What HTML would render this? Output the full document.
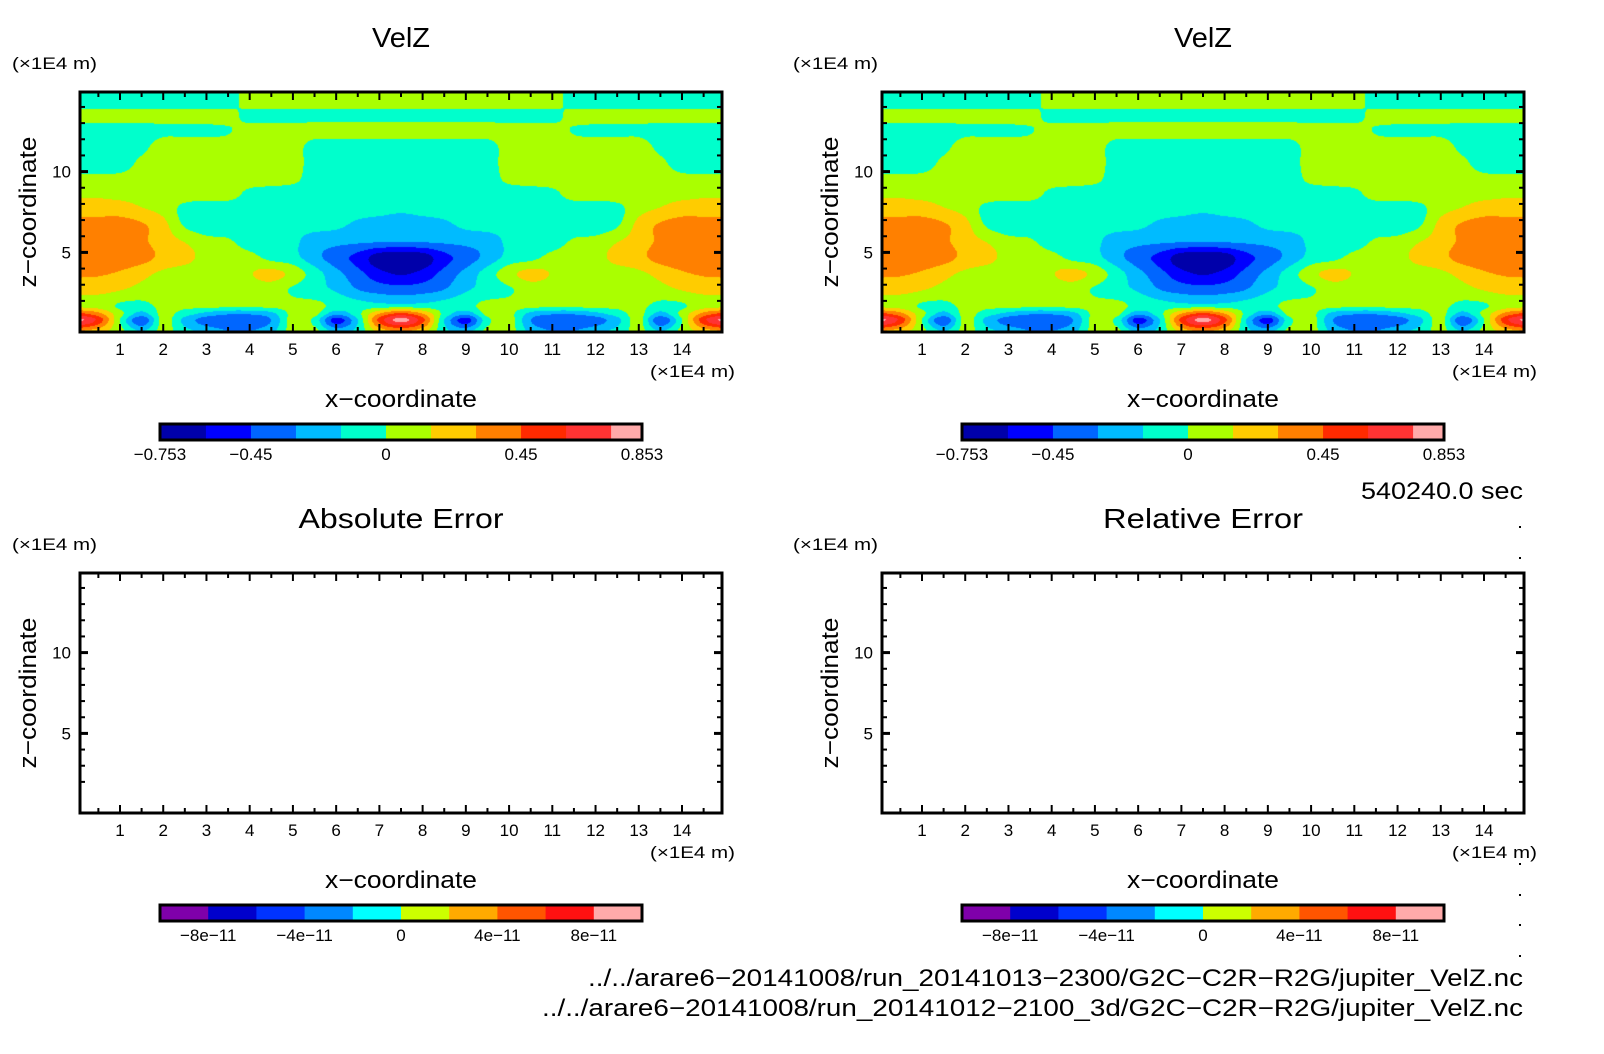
<!DOCTYPE html>
<html><head><meta charset="utf-8"><style>
html,body{margin:0;padding:0;background:#fff;}
#wrap{position:relative;width:1604px;height:1054px;overflow:hidden;}
canvas{position:absolute;}
svg{position:absolute;left:0;top:0;}
text{font-family:"Liberation Sans",sans-serif;fill:#000;}
</style></head><body>
<div id="wrap">
<canvas id="c1" width="642" height="240" style="left:80px;top:92px"></canvas>
<canvas id="c2" width="642" height="240" style="left:882px;top:92px"></canvas>
<svg id="svg" width="1604" height="1054"></svg>
</div>
<script>
// ---- data ----
const xNodes = [0,0.5,1,1.5,2,2.5,3,3.5,4,4.5,5,5.5,6,6.5,7,7.5,8,8.5,9,9.5,10,10.5,11,11.5,12,12.5,13,13.5,14,14.5,15];
const zNodes = [0.1,0.8,1.2,1.7,2.7,3.7,4.7,5.7,6.7,7.7,8.7,9.5,10.5,11.5,12.6,13.5,14.2,15.0];
const velzRows = [
[.3,.2,.05,-.15,.05,-.1,-.2,-.3,-.3,-.2,.07,.05,-.2,-.1,.2,.3,.2,-.1,-.2,.05,.07,-.2,-.3,-.3,-.2,-.1,.05,-.15,.05,.2,.3],
[.8,.55,0,-.42,.05,-.2,-.38,-.4,-.4,-.3,.07,-.05,-.52,-.15,.5,.8,.5,-.15,-.52,-.05,.07,-.3,-.4,-.4,-.38,-.2,.05,-.42,0,.55,.8],
[.5,.35,.05,-.2,.05,-.08,-.2,-.28,-.28,-.2,.05,.05,-.25,-.05,.3,.5,.3,-.05,-.25,.05,.05,-.2,-.28,-.28,-.2,-.08,.05,-.2,.05,.35,.5],
[.1,.08,-.02,-.05,.05,.05,.05,.05,.05,.05,.05,.05,-.05,-.08,-.1,-.1,-.1,-.08,-.05,.05,.05,.05,.05,.05,.05,.05,.05,-.05,-.02,.08,.1],
[.2,.2,.16,.1,.07,.07,.07,.07,.07,.07,-.02,-.1,-.17,-.3,-.36,-.38,-.36,-.3,-.17,-.1,-.02,.07,.07,.07,.07,.07,.07,.1,.16,.2,.2],
[.33,.32,.28,.2,.12,.08,.07,.08,.14,.2,.1,-.08,-.25,-.4,-.55,-.62,-.55,-.4,-.25,-.08,.1,.2,.14,.08,.07,.08,.12,.2,.28,.32,.33],
[.4,.4,.4,.36,.26,.2,.1,.08,.05,-.05,-.1,-.25,-.38,-.5,-.68,-.72,-.68,-.5,-.38,-.25,-.1,-.05,.05,.08,.1,.2,.26,.36,.4,.4,.4],
[.37,.37,.37,.33,.22,.14,.05,.02,-.08,-.1,-.12,-.22,-.25,-.27,-.28,-.29,-.28,-.27,-.25,-.22,-.12,-.1,-.08,.02,.05,.14,.22,.33,.37,.37,.37],
[.37,.37,.37,.32,.2,-.02,-.1,-.1,-.1,-.1,-.1,-.1,-.12,-.18,-.22,-.25,-.22,-.18,-.12,-.1,-.1,-.1,-.1,-.1,-.1,-.02,.2,.32,.37,.37,.37],
[.22,.22,.22,.16,.1,-.05,-.1,-.1,-.1,-.1,-.1,-.1,-.1,-.1,-.1,-.12,-.1,-.1,-.1,-.1,-.1,-.1,-.1,-.1,-.1,-.05,.1,.16,.22,.22,.22],
[.12,.12,.1,.1,.1,.1,.1,.1,-.05,-.1,-.1,-.1,-.1,-.1,-.1,-.1,-.1,-.1,-.1,-.1,-.1,-.1,-.05,.1,.1,.1,.1,.1,.1,.12,.12],
[.05,.05,.07,.1,.1,.1,.1,.1,.1,.1,.05,-.1,-.1,-.1,-.1,-.1,-.1,-.1,-.1,-.1,.05,.1,.1,.1,.1,.1,.1,.1,.07,.05,.05],
[-.1,-.1,-.1,.05,.1,.1,.1,.1,.1,.1,.1,-.1,-.1,-.1,-.1,-.1,-.1,-.1,-.1,-.1,.1,.1,.1,.1,.1,.1,.1,.05,-.1,-.1,-.1],
[-.1,-.1,-.1,-.05,.1,.1,.1,.1,.1,.1,.1,-.1,-.1,-.1,-.1,-.1,-.1,-.1,-.1,-.1,.1,.1,.1,.1,.1,.1,.1,-.05,-.1,-.1,-.1],
[-.1,-.1,-.1,-.1,-.05,-.05,-.05,-.02,.1,.1,.1,.1,.1,.1,.1,.1,.1,.1,.1,.1,.1,.1,.1,-.02,-.05,-.05,-.05,-.1,-.1,-.1,-.1],
[.1,.1,.1,.1,.1,.1,.1,.1,-.1,-.1,-.1,-.1,-.1,-.1,-.1,-.1,-.1,-.1,-.1,-.1,-.1,-.1,-.1,.1,.1,.1,.1,.1,.1,.1,.1],
[-.1,-.1,-.1,-.1,-.1,-.1,-.1,-.1,.1,.1,.1,.1,.1,.1,.1,.1,.1,.1,.1,.1,.1,.1,.1,-.1,-.1,-.1,-.1,-.1,-.1,-.1,-.1],
[-.1,-.1,-.1,-.1,-.1,-.1,-.1,-.1,.1,.1,.1,.1,.1,.1,.1,.1,.1,.1,.1,.1,.1,.1,.1,-.1,-.1,-.1,-.1,-.1,-.1,-.1,-.1]
];
const velzLevels = [-0.753,-0.6,-0.45,-0.3,-0.15,0,0.15,0.3,0.45,0.6,0.75,0.853];
const velzColors = ['#0000aa','#0000ff','#0066ff','#00bbff','#00ffcc','#aaff00','#ffcc00','#ff8000','#ff2a00','#ff3333','#ffaaaa'];
const velzTickValues = [-0.753,-0.45,0,0.45,0.853];
const velzTickLabels = ['\u22120.753','\u22120.45','0','0.45','0.853'];
const errLevels = [-1e-10,-8e-11,-6e-11,-4e-11,-2e-11,0,2e-11,4e-11,6e-11,8e-11,1e-10];
const errColors = ['#7f00aa','#0000cc','#0033ff','#0088ff','#00ffff','#ccff00','#ffaa00','#ff5500','#ff1111','#ffaaaa'];
const errTickValues = [-8e-11,-4e-11,0,4e-11,8e-11];
const errTickLabels = ['\u22128e\u221211','\u22124e\u221211','0','4e\u221211','8e\u221211'];
const xTickLabels = [1,2,3,4,5,6,7,8,9,10,11,12,13,14];
const zTickLabels = [5,10];

// ---- geometry ----
const X0=0.075, X1=14.925, Z0=0.075, Z1=14.925, PW=642, PH=240;
const colOff=[0,802], rowOff=[0,481];
function sx(v,ox){return 80+ox+(v-X0)/(X1-X0)*PW;}
function sz(v,oy){return 332+oy-(v-Z0)/(Z1-Z0)*PH;}

function cr(p0,p1,p2,p3,t){
  const t2=t*t,t3=t2*t;
  return 0.5*((2*p1)+(-p0+p2)*t+(2*p0-5*p1+4*p2-p3)*t2+(-p0+3*p1-3*p2+p3)*t3);
}
function locate(arr,v){
  let i=0; while(i<arr.length-2 && v>arr[i+1]) i++;
  let t=(v-arr[i])/(arr[i+1]-arr[i]); t=Math.max(0,Math.min(1,t));
  return [i,t];
}
function rowVal(j,i,tx){
  const r=velzRows[Math.max(0,Math.min(velzRows.length-1,j))];
  const g=k=>r[Math.max(0,Math.min(r.length-1,k))];
  return cr(g(i-1),g(i),g(i+1),g(i+2),tx);
}
function fieldAt(x,z){
  const [i,tx]=locate(xNodes,x), [j,tz]=locate(zNodes,z);
  return cr(rowVal(j-1,i,tx),rowVal(j,i,tx),rowVal(j+1,i,tx),rowVal(j+2,i,tx),tz);
}
function binColor(v){
  let k=0; while(k<velzColors.length-1 && v>velzLevels[k+1]) k++;
  return velzColors[k];
}
function hex(c){return [parseInt(c.substr(1,2),16),parseInt(c.substr(3,2),16),parseInt(c.substr(5,2),16)];}
function drawField(id){
  const cv=document.getElementById(id), ctx=cv.getContext('2d');
  const img=ctx.createImageData(PW,PH);
  for(let py=0;py<PH;py++){
    const z=Z1-(py+0.5)/PH*(Z1-Z0);
    for(let px=0;px<PW;px++){
      const x=X0+(px+0.5)/PW*(X1-X0);
      const rgb=hex(binColor(fieldAt(x,z)));
      const k=(py*PW+px)*4;
      img.data[k]=rgb[0];img.data[k+1]=rgb[1];img.data[k+2]=rgb[2];img.data[k+3]=255;
    }
  }
  ctx.putImageData(img,0,0);
}
drawField('c1'); drawField('c2');

// ---- svg ----
const NS='http://www.w3.org/2000/svg';
const svg=document.getElementById('svg');
function el(tag,attrs,parent){const e=document.createElementNS(NS,tag);for(const k in attrs)e.setAttribute(k,attrs[k]);(parent||svg).appendChild(e);return e;}
function txt(s,x,y,size,anchor,len,parent){
  const a={x:x,y:y,'font-size':size,'text-anchor':anchor||'start'};
  if(len){a.textLength=len;a.lengthAdjust='spacingAndGlyphs';}
  const t=el('text',a,parent);t.textContent=s;return t;
}
const titles=[['VelZ','VelZ'],['Absolute Error','Relative Error']];
const titleW=[[58,58],[205,200]];
for(let r=0;r<2;r++)for(let c=0;c<2;c++){
  const ox=colOff[c], oy=rowOff[r];
  const g=el('g',{});
  
  
  const t=txt(titles[r][c],401+ox,47+oy,28,'middle',titleW[r][c],g);
  
  
  const u=txt('(\u00d71E4 m)',(c===0?12:793),69+oy,17,'start',85,g);
  
  
  const zl=txt('z\u2212coordinate',0,0,24,'middle',151,g);
  zl.setAttribute('transform','translate('+(36+ox)+','+(212+oy)+') rotate(-90)');
  
  
  for(let v=0.5;v<15;v+=0.5){
    const L=(Math.abs(v-Math.round(v))<1e-6)?8:5;
    const x=sx(v,ox);
    const t1=el('line',{x1:x,x2:x,y1:92+oy,y2:92+oy+L,stroke:'#000','stroke-width':2},g);
    
    
    const t2=el('line',{x1:x,x2:x,y1:332+oy,y2:332+oy-L,stroke:'#000','stroke-width':2},g);
    
    
  }
  for(let v=2;v<=14;v++){
    const L=(v%5===0)?8:5, w=(v%5===0)?3:2;
    const y=sz(v,oy);
    const t1=el('line',{x1:80+ox,x2:80+ox+L,y1:y,y2:y,stroke:'#000','stroke-width':w},g);
    
    
    const t2=el('line',{x1:722+ox,x2:722+ox-L,y1:y,y2:y,stroke:'#000','stroke-width':w},g);
    
    
  }
  const fr=el('rect',{x:80+ox,y:92+oy,width:PW,height:PH,fill:'none',stroke:'#000','stroke-width':3},g);
  
  
  xTickLabels.forEach(v=>{
    const t=txt(String(v),sx(v,ox),355+oy,17,'middle',null,g);
    
    
  });
  zTickLabels.forEach(v=>{
    const t=txt(String(v),71+ox,sz(v,oy)+6,17,'end',null,g);
    
    
  });
  const xu=txt('(\u00d71E4 m)',650+ox,377+oy,17,'start',85,g);
  
  
  const xt=txt('x\u2212coordinate',401+ox,407+oy,24,'middle',152,g);
  
  
  const lv=r===0?velzLevels:errLevels, cl=r===0?velzColors:errColors;
  const tv=r===0?velzTickValues:errTickValues, tl=r===0?velzTickLabels:errTickLabels;
  const cbx=v=>160+ox+(v-lv[0])/(lv[lv.length-1]-lv[0])*482;
  for(let k=0;k<cl.length;k++){
    const rc=el('rect',{x:cbx(lv[k]),y:424+oy,width:cbx(lv[k+1])-cbx(lv[k])+0.5,height:16,fill:cl[k]},g);
    
    
  }
  const cf=el('rect',{x:160+ox,y:424+oy,width:482,height:16,fill:'none',stroke:'#000','stroke-width':3},g);
  
  
  tv.forEach((v,k)=>{
    const t=txt(tl[k],cbx(v),460+oy,17,'middle',null,g);
    
    
  });
}
const tm=txt('540240.0 sec',1523,499,24,'end',162);


const f1=txt('../../arare6\u221220141008/run_20141013\u22122300/G2C\u2212C2R\u2212R2G/jupiter_VelZ.nc',1523,986,24,'end',935);


const f2=txt('../../arare6\u221220141008/run_20141012\u22122100_3d/G2C\u2212C2R\u2212R2G/jupiter_VelZ.nc',1523,1016,24,'end',981);


[526,557,863,894,924,955].forEach(y=>{
  const d=el('rect',{x:1519,y:y,width:2,height:2,fill:'#000'});
  
  
});
</script>
</body></html>
